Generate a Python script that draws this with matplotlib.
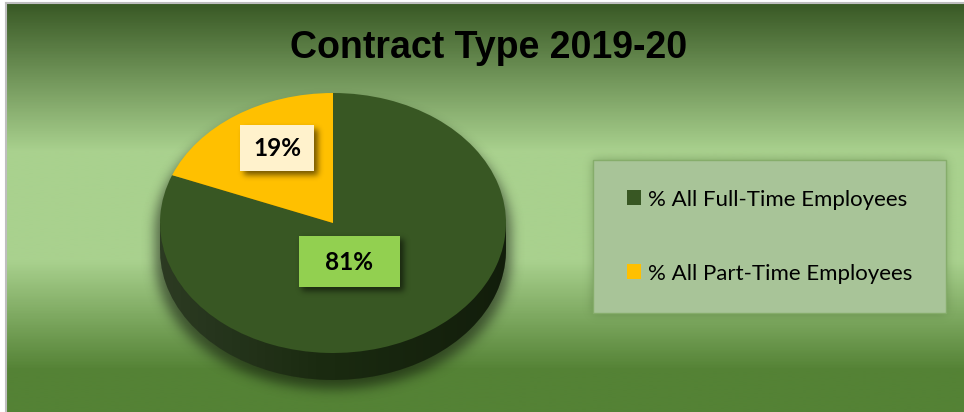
import numpy as np
import matplotlib.pyplot as plt
from matplotlib.patches import Rectangle, Polygon
from matplotlib.colors import LinearSegmentedColormap, to_rgb

# contract split for 2019-20
categories = ['% All Full-Time Employees', '% All Part-Time Employees']
shares = [81, 19]
slice_colors = ['#385723', '#FFC000']
side_colors = ['#1a2a10', '#7f6000']
label_faces = ['#92D050', '#FFF2CC']
title = 'Contract Type 2019-20'

W, H = 964, 412
fig = plt.figure(figsize=(W / 100, H / 100), dpi=100)

# base axes in pixel units (y down)
ax = fig.add_axes([0, 0, 1, 1])
ax.set_xlim(0, W)
ax.set_ylim(H, 0)
ax.axis('off')

# chart area background
stops = [(0.0, '#3a5a26'), (0.36, '#a9d18e'), (0.63, '#a9d18e'),
         (0.90, '#548235'), (1.0, '#548235')]
bg_cmap = LinearSegmentedColormap.from_list('bg', stops)
grad = np.linspace(0, 1, 400)[:, None]
ax.imshow(grad, cmap=bg_cmap, extent=[7, W, H, 4], aspect='auto',
          interpolation='bilinear', zorder=0)
ax.plot([6, 6], [3, H], color='#bfbfbf', lw=1.5, zorder=0.5)
ax.plot([6, W], [3, 3], color='#bfbfbf', lw=1.5, zorder=0.5)

yy, xx = np.mgrid[0:H, 0:W] + 0.5


def blur(a, s):
    k = np.arange(-3 * s, 3 * s + 1)
    k = np.exp(-0.5 * (k / s) ** 2)
    k /= k.sum()
    a = np.apply_along_axis(lambda r: np.convolve(r, k, mode='same'), 1, a)
    a = np.apply_along_axis(lambda c: np.convolve(c, k, mode='same'), 0, a)
    return a


def soft_shadow(target, mask, s, alpha, color='black', z=1):
    a = blur(mask.astype(float), s) * alpha
    rgba = np.zeros((H, W, 4))
    rgba[..., :3] = to_rgb(color)
    rgba[..., 3] = np.clip(a, 0, 1)
    target.imshow(rgba, extent=[0, W, H, 0], aspect='auto', zorder=z,
                  interpolation='bilinear')


def ellipse(x0, y0, a, b):
    return ((xx - x0) / a) ** 2 + ((yy - y0) / b) ** 2 <= 1


# pie geometry (pixels)
cx, cy, rx, ry, depth = 333, 223, 173, 130, 27

# shadow under the pie
off = 9
sil = (ellipse(cx, cy + off, rx + 5, ry) |
       ellipse(cx, cy + depth + off, rx + 5, ry) |
       ((np.abs(xx - cx) <= rx + 5) & (yy >= cy + off) & (yy <= cy + depth + off)))
soft_shadow(ax, sil, 6, 0.5)

# pie axes: unit radius maps to rx by ry pixels
pax = fig.add_axes([0, 0, 1, 1])
pax.set_zorder(1)
pax.patch.set_alpha(0)
dd = depth / ry

pax.pie(shares, colors=side_colors, startangle=90, counterclock=False,
        center=(0, -dd), radius=1, wedgeprops=dict(linewidth=0))
pax.add_patch(Rectangle((-1, -dd), 2, dd, color=side_colors[0], lw=0))
wedges, _ = pax.pie(shares, colors=slice_colors, startangle=90, counterclock=False,
                    radius=1, wedgeprops=dict(linewidth=0))

# shading on the rim
th = np.linspace(np.pi, 2 * np.pi, 200)
rim = np.concatenate([np.c_[np.cos(th), np.sin(th) - dd],
                      np.c_[np.cos(th[::-1]), np.sin(th[::-1])]])
rim_patch = Polygon(rim, closed=True, fc='none', ec='none')
pax.add_patch(rim_patch)
shade = np.zeros((1, 200, 4))
tx = np.linspace(0, 1, 200)
shade[0, :, :3] = np.where(tx[:, None] < 0.5, 1.0, 0.0)
shade[0, :, 3] = np.where(tx < 0.5, 0.08 * (1 - 2 * tx), 0.3 * (2 * tx - 1))
im = pax.imshow(shade, extent=[-1, 1, -dd - 1, 0], aspect='auto',
                interpolation='bilinear', zorder=3)
im.set_clip_path(rim_patch)

pax.set_aspect('auto')
pax.set_xlim(-cx / rx, (W - cx) / rx)
pax.set_ylim((cy - H) / ry, cy / ry)
pax.axis('off')

# overlay axes for labels, legend and title
tax = fig.add_axes([0, 0, 1, 1])
tax.set_zorder(2)
tax.patch.set_alpha(0)
tax.set_xlim(0, W)
tax.set_ylim(H, 0)
tax.axis('off')

label_pos = [(349, 261), (277, 148)]
box_size = [(101, 51), (74, 46)]
bmask = np.zeros((H, W), bool)
for (x, y), (w, h) in zip(label_pos, box_size):
    bmask |= ((np.abs(xx - x - 4) <= w / 2) & (np.abs(yy - y - 4) <= h / 2))
soft_shadow(tax, bmask, 3, 0.55, z=1)
for i, v in enumerate(shares):
    (x, y), (w, h) = label_pos[i], box_size[i]
    tax.add_patch(Rectangle((x - w / 2, y - h / 2), w, h, fc=label_faces[i],
                            ec='none', zorder=2))
    tax.text(x, y + 1, f'{v}%', ha='center', va='center', fontsize=17.5,
             fontweight='bold', family='Lato', zorder=3)

# legend panel
px0, py0, pw, ph = 593, 160, 353, 153
pmask = (xx >= px0) & (xx <= px0 + pw) & (yy >= py0) & (yy <= py0 + ph)
soft_shadow(tax, pmask, 5, 0.35, color='#2f4a1c', z=1)
tax.add_patch(Rectangle((px0, py0), pw, ph, fc='#a8c498', ec='#86ad6b', lw=1, zorder=2))
tax.legend(wedges, categories, loc='center',
           bbox_to_anchor=(px0 + pw / 2, py0 + ph / 2), bbox_transform=tax.transData,
           frameon=False, prop=dict(family='Lato', size=16),
           handlelength=0.63, handleheight=0.63, handletextpad=0.3, labelspacing=2.43)

tax.text(489, 58, title, ha='center', va='baseline', fontsize=27,
         fontweight='bold', family='Liberation Sans')

fig.savefig('out.png', dpi=100, facecolor='white')
